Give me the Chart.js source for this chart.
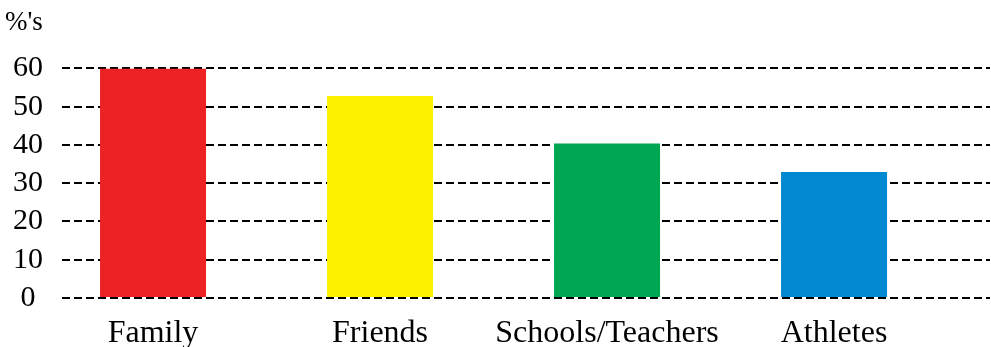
<!DOCTYPE html>
<html>
<head>
<meta charset="utf-8">
<script src="https://cdn.jsdelivr.net/npm/chart.js@4"></script>
<style>
  html, body { margin: 0; padding: 0; background: #fff; }
  #wrap { width: 991px; height: 347px; }
</style>
</head>
<body>
<div id="wrap"><canvas id="barChart"></canvas></div>
<script>
var categories = ["Family", "Friends", "Schools/Teachers", "Athletes"];
var values = [60, 52.8, 40.4, 32.9];
var colors = ["#ED2224", "#FFF200", "#00A651", "#0089D0"];
var yTicks = [0, 10, 20, 30, 40, 50, 60];

var serif = "'Liberation Serif', 'Times New Roman', serif";

var data = {
  datasets: [
    {
      data: categories.map(function (c, i) { return { x: i, y: values[i] }; }),
      backgroundColor: colors,
      borderWidth: 0,
      categoryPercentage: 1,
      barPercentage: 0.467,
    },
  ],
};

var options = {
  responsive: true,
  maintainAspectRatio: false,
  animation: false,
  layout: { padding: { left: 5, right: 1, top: 0, bottom: 0 } },
  plugins: {
    legend: { display: false },
    tooltip: { enabled: false },
    title: {
      display: true,
      text: "%'s",
      align: "start",
      color: "#000",
      font: { family: serif, size: 27, weight: "normal" },
      padding: { top: 7, bottom: 29 },
    },
  },
  scales: {
    x: {
      type: "linear",
      offset: false,
      min: -0.401,
      max: 3.687,
      grid: { display: false, drawTicks: false },
      border: { display: false },
      afterBuildTicks: function (axis) {
        axis.ticks = categories.map(function (c, i) { return { value: i }; });
      },
      afterFit: function (axis) { axis.height = 49; },
      ticks: {
        autoSkip: false,
        maxRotation: 0,
        padding: 20,
        color: "#000",
        font: { family: serif, size: 32, lineHeight: 1 },
        callback: function (v) { return categories[v]; },
      },
    },
    y: {
      min: 0,
      max: 60,
      afterBuildTicks: function (axis) {
        axis.ticks = yTicks.map(function (v) { return { value: v }; });
      },
      afterFit: function (axis) { axis.width = 57; },
      grid: { color: "#000", lineWidth: 2, drawTicks: false },
      border: { display: false, dash: [8, 4] },
      ticks: {
        autoSkip: false,
        padding: 19,
        crossAlign: "center",
        color: "#000",
        font: { family: serif, size: 30 },
      },
    },
  },
};

var barChart = new Chart(document.getElementById("barChart"), {
  type: "bar",
  data: data,
  options: options,
});
</script>
</body>
</html>
